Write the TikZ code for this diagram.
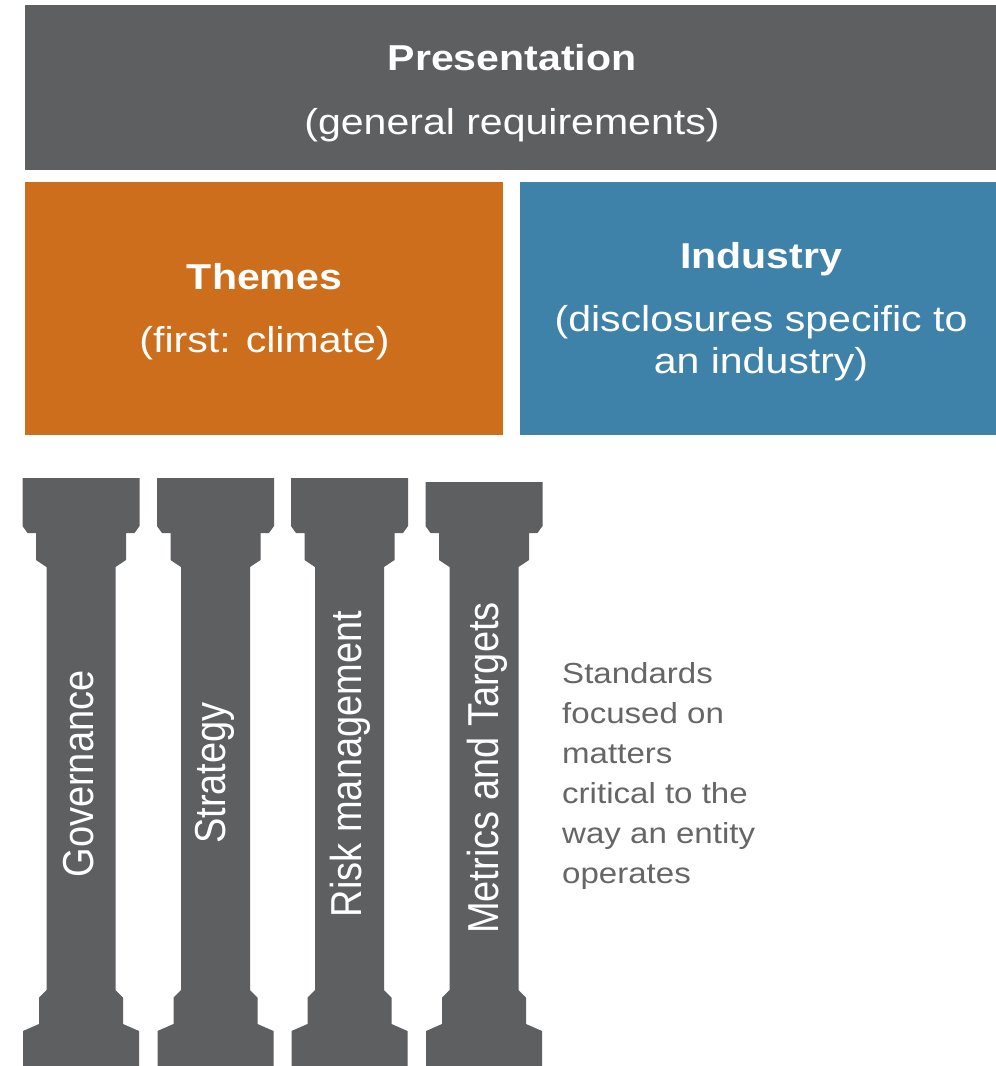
\documentclass[tikz,border=0pt]{standalone}
\usepackage{fontspec}
\setmainfont{Liberation Sans}[FakeStretch=1.14]
\newfontfamily\rotfont{Liberation Sans}
\definecolor{slate}{HTML}{5E5F61}
\definecolor{ochre}{HTML}{CC6E1B}
\definecolor{steel}{HTML}{3F82A9}
\definecolor{notegray}{HTML}{666666}
\newcommand\mypillar[2]{%
  \fill[slate] (#1-58.5,#2) -- (#1+58.5,#2) -- (#1+58.5,526) -- (#1+53.5,533) -- (#1+45,533)
    -- (#1+45,560) -- (#1+34.5,567) -- (#1+34.5,990) -- (#1+42,997.5) -- (#1+42,1024)
    -- (#1+58,1031) -- (#1+58,1066) -- (#1-58,1066) -- (#1-58,1031) -- (#1-42,1024)
    -- (#1-42,997.5) -- (#1-34.5,990) -- (#1-34.5,567) -- (#1-45,560) -- (#1-45,533)
    -- (#1-53.5,533) -- (#1-58.5,526) -- cycle;}
\newcommand\vstretch[1]{\scalebox{1}[1.14]{#1}}
\begin{document}
\begin{tikzpicture}[x=1pt,y=-1pt,
  box/.style={draw=none, inner sep=0pt, outer sep=0pt, anchor=north west},
  title/.style={text=white, inner sep=0pt, anchor=base, font=\fontsize{36}{41}\selectfont\bfseries},
  sub/.style={text=white, inner sep=0pt, anchor=base, font=\fontsize{36}{41}\selectfont},
  pillartext/.style={text=white, inner sep=0pt, anchor=base, rotate=90, font=\rotfont\fontsize{38}{44}\selectfont},
  note/.style={text=notegray, inner sep=0pt, anchor=north west, align=left, font=\fontsize{29}{40}\selectfont}]
\useasboundingbox (0,0) rectangle (996,1066);
\fill[white] (0,0) rectangle (996,1066);
% boxes
\node[box, fill=slate, minimum width=971pt, minimum height=165pt] (pres) at (25,5) {};
\node[box, fill=ochre, minimum width=478pt, minimum height=253pt] (themes) at (25,182) {};
\node[box, fill=steel, minimum width=476pt, minimum height=253pt] (industry) at (520,182) {};
\node[title] (presT) at (512,70) {Presentation};
\node[sub] (presS) at (512,134) {(general requirements)};
\node[title] (themesT) at (264.5,289) {Themes};
\node[sub] (themesS) at (264.5,352) {(first: climate)};
\node[title] (indT) at (761,268) {Industry};
\node[sub] (indS1) at (761,331) {(disclosures specific to};
\node[sub] (indS2) at (761,373) {an industry)};
% pillars
\mypillar{81}{478}
\mypillar{215.5}{478}
\mypillar{349.5}{478}
\mypillar{484}{482}
\node[pillartext] (gov) at (93,774) {\vstretch{Governance}};
\node[pillartext] (strat) at (225,773) {\vstretch{Strategy}};
\node[pillartext] (risk) at (361,764) {\vstretch{Risk management}};
\node[pillartext] (metrics) at (498,768) {\vstretch{Metrics and Targets}};
\node[note] (standards) at (562,662) {Standards\\focused on\\matters\\critical to the\\way an entity\\operates};
\end{tikzpicture}
\end{document}
